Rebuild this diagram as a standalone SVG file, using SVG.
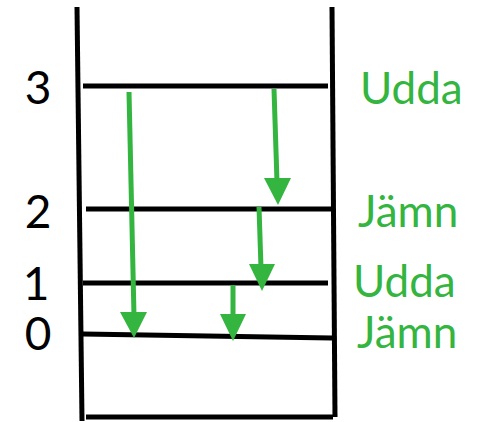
<svg xmlns="http://www.w3.org/2000/svg" width="479" height="422" viewBox="0 0 479 422">
<defs>
<style>
.frame{stroke:#000;stroke-width:5;fill:none;stroke-linecap:butt}
.arrow{stroke:#33b540;stroke-width:5;fill:none}
.head{fill:#33b540}
.num{font-family:Lato,"Open Sans",sans-serif;font-size:46px;fill:#000}
.lbl{font-family:Lato,"Open Sans",sans-serif;font-size:44px;fill:#33b540}
</style>
</defs>
<rect width="479" height="422" fill="#fff"/>
<g id="stack">
<line class="frame" x1="77" y1="7" x2="82" y2="421"/>
<line class="frame" x1="332" y1="7" x2="335" y2="417"/>
<line class="frame" x1="86" y1="417" x2="333" y2="417"/>
</g>
<g id="level3">
<line class="frame" x1="83" y1="86" x2="328" y2="86"/>
<text class="num" x="38" y="104" text-anchor="middle">3</text>
<text class="lbl" x="360" y="104">Udda</text>
</g>
<g id="level2">
<line class="frame" x1="86" y1="209" x2="331" y2="209"/>
<text class="num" x="38" y="228" text-anchor="middle">2</text>
<text class="lbl" x="358" y="227">Jämn</text>
</g>
<g id="level1">
<line class="frame" x1="83" y1="283" x2="328" y2="283"/>
<text class="num" x="36" y="300" text-anchor="middle">1</text>
<text class="lbl" x="353" y="297">Udda</text>
</g>
<g id="level0">
<line class="frame" x1="83" y1="334" x2="332" y2="338"/>
<text class="num" x="38" y="350" text-anchor="middle">0</text>
<text class="lbl" x="357" y="348">Jämn</text>
</g>
<g id="connectors">
<line class="arrow" x1="129" y1="92" x2="134" y2="316"/>
<polygon class="head" points="120,312 147,312 134,338"/>
<line class="arrow" x1="274" y1="89" x2="277" y2="182"/>
<polygon class="head" points="264,178 291,178 278,205"/>
<line class="arrow" x1="259" y1="207" x2="261" y2="268"/>
<polygon class="head" points="249,264 275,264 262,291"/>
<line class="arrow" x1="233" y1="285" x2="233" y2="318"/>
<polygon class="head" points="220,314 246,314 233,341"/>
</g>
</svg>
